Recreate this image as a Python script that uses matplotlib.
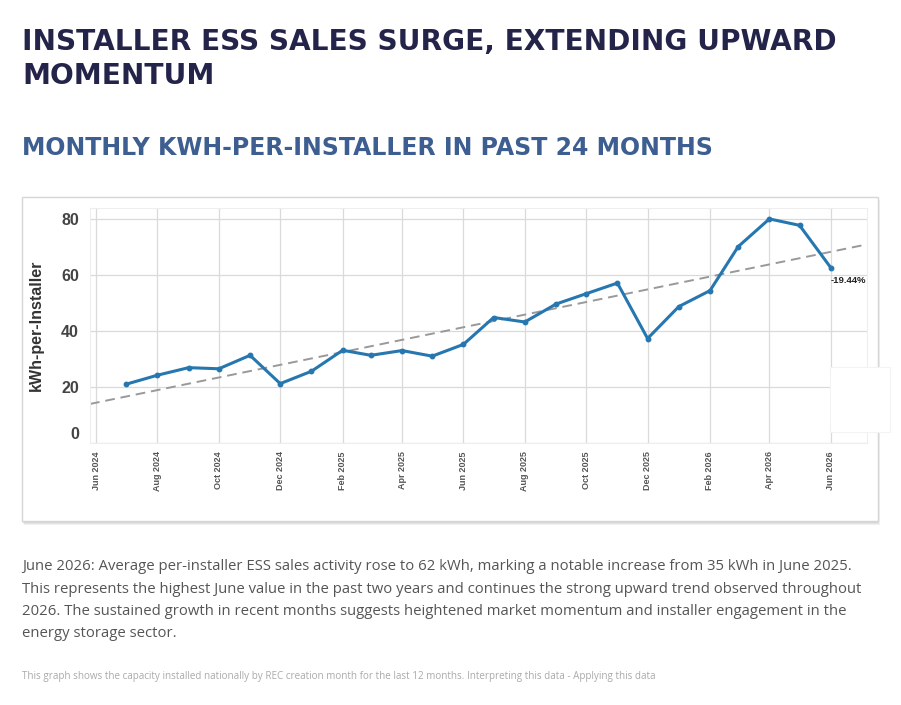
import matplotlib
matplotlib.use('Agg')
import matplotlib.pyplot as plt
import matplotlib.dates as mdates
from matplotlib.patches import Rectangle
from matplotlib.transforms import ScaledTranslation
import numpy as np
import pandas as pd

# monthly kWh-per-installer, Jul 2024 .. Jun 2026
months = ['2024-07', '2024-08', '2024-09', '2024-10', '2024-11', '2024-12',
          '2025-01', '2025-02', '2025-03', '2025-04', '2025-05', '2025-06',
          '2025-07', '2025-08', '2025-09', '2025-10', '2025-11', '2025-12',
          '2026-01', '2026-02', '2026-03', '2026-04', '2026-05', '2026-06']
kwh = [21.0, 24.2, 26.9, 26.5, 31.3, 21.2,
       25.6, 33.1, 31.3, 33.0, 31.0, 35.2,
       44.8, 43.2, 49.6, 53.3, 57.1, 37.3,
       48.7, 54.4, 70.1, 80.0, 77.7, 62.6]
last_change = '-19.44%'
y_ticks = [0, 20, 40, 60, 80]

title_lines = ['INSTALLER ESS SALES SURGE, EXTENDING UPWARD', 'MOMENTUM']
subtitle = 'MONTHLY KWH-PER-INSTALLER IN PAST 24 MONTHS'
body_lines = [
    'June 2026: Average per-installer ESS sales activity rose to 62 kWh, marking a notable increase from 35 kWh in June 2025.',
    'This represents the highest June value in the past two years and continues the strong upward trend observed throughout',
    '2026. The sustained growth in recent months suggests heightened market momentum and installer engagement in the',
    'energy storage sector.']
footnote = ('This graph shows the capacity installed nationally by REC creation month for the last 12 months. '
            'Interpreting this data - Applying this data')

dates = pd.to_datetime(months)
W, H = 901, 705
chart_font = 'Liberation Sans'

fig = plt.figure(figsize=(W / 100, H / 100), dpi=100)
fig.patch.set_facecolor('white')


def fx(px):
    return px / W


def fy(py):
    return 1 - py / H


# page titles
for line, base in zip(title_lines, [50, 84]):
    fig.text(fx(22), fy(base), line, fontsize=20.2, fontweight='bold',
             color='#24244a', va='baseline', ha='left')
fig.text(fx(22), fy(155), subtitle, fontsize=17,
         fontweight='bold', color='#3d5e91', va='baseline', ha='left')

# chart card with a soft shadow
for i, a in enumerate([0.05, 0.05, 0.06]):
    fig.patches.append(Rectangle((fx(22 + i), fy(522 + i + 1)), fx(856), 325 / H,
                                 transform=fig.transFigure, facecolor='#000000',
                                 alpha=a, edgecolor='none', zorder=0))
fig.patches.append(Rectangle((fx(22), fy(521)), fx(856), 324 / H,
                             transform=fig.transFigure, facecolor='white',
                             edgecolor='#d6d6d6', linewidth=1, zorder=0.5))

ax = fig.add_axes([fx(90), fy(443), fx(777), 235.3 / H])
ax.set_zorder(1)
ax.set_facecolor('white')

ax.plot(dates, kwh, color='#2677b0', linewidth=2.2, marker='o', markersize=3.2, zorder=3)

# linear trend over the full x range
xnum = mdates.date2num(dates)
slope, icpt = np.polyfit(xnum, kwh, 1)
x0 = mdates.date2num(pd.Timestamp('2024-05-26'))
x1 = mdates.date2num(pd.Timestamp('2026-07-07'))
ax.plot([x0, x1], [icpt + slope * x0, icpt + slope * x1], color='#999999',
        linewidth=1.4, linestyle=(0, (5, 3)), zorder=2)

ax.annotate(last_change, (dates[-1], kwh[-1]), xytext=(0, -9), textcoords='offset points',
            fontsize=6.8, fontweight='bold', family=chart_font, color='#222222',
            ha='left', va='center')

ax.set_xlim(x0, x1)
ax.set_ylim(0, 84)
ax.set_yticks(y_ticks)
xt = pd.date_range('2024-06-01', '2026-06-01', freq='2MS')
ax.set_xticks(xt)
ax.set_xticklabels([d.strftime('%b %Y') for d in xt], rotation=90, fontsize=6.5,
                   fontweight='bold', family=chart_font, color='#555555')
ax.tick_params(axis='y', labelsize=11.5, labelcolor='#444444', length=0, pad=8)
for lbl in ax.get_yticklabels():
    lbl.set_fontweight('bold')
    lbl.set_family(chart_font)
# the zero label sits a bit higher than its gridline
zl = ax.get_yticklabels()[0]
zl.set_transform(zl.get_transform() + ScaledTranslation(0, 0.1, fig.dpi_scale_trans))
ax.tick_params(axis='x', length=0, pad=6)
ax.set_ylabel('kWh-per-Installer', fontsize=11.5, fontweight='bold', family=chart_font,
              color='#333333', labelpad=12)
ax.grid(True, color='#dadada', linewidth=0.9)
ax.set_axisbelow(True)
for s in ax.spines.values():
    s.set_color('#eeeeee')

# white patch glitch on the right edge of the card
fig.patches.append(Rectangle((fx(830), fy(432)), fx(60), 65 / H, transform=fig.transFigure,
                             facecolor='white', edgecolor='#f3f3f3', linewidth=0.8, zorder=5))

# description and footnote
for line, base in zip(body_lines, [570, 593, 615, 637]):
    fig.text(fx(22), fy(base), line, fontsize=10.7, family='Open Sans', color='#555555',
             va='baseline', ha='left')
fig.text(fx(22), fy(676), footnote, fontsize=7.1, family='Open Sans', color='#aaaaaa',
         va='center', ha='left')

fig.savefig('out.png', dpi=100, facecolor='white')
